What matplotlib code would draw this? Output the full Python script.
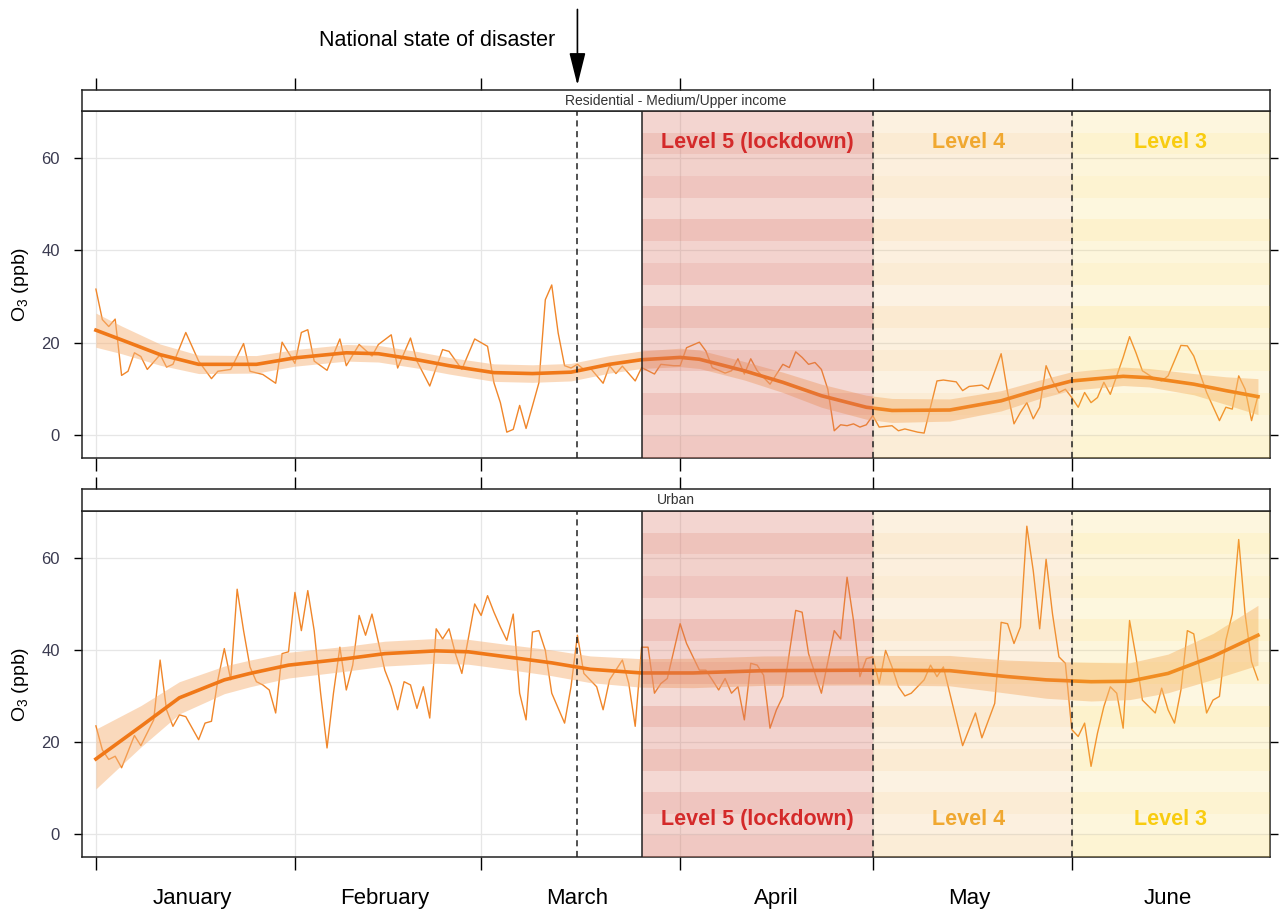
import numpy as np
import matplotlib
matplotlib.use("Agg")
import matplotlib.pyplot as plt
import matplotlib.dates as mdates

plt.rcParams['font.family'] = ['Liberation Sans', 'DejaVu Sans']
plt.rcParams['mathtext.fontset'] = 'custom'
plt.rcParams['mathtext.rm'] = 'Liberation Sans'

# ---- data (day offsets from 1 Jan 2020, O3 in ppb) ----
start_date = np.datetime64('2020-01-01')

res_days = [0, 1, 2, 3, 4, 5, 6, 7, 8, 10, 11, 12, 14, 16, 18, 19, 21, 23, 24, 26,
            28, 29, 31, 32, 33, 34, 36, 38, 39, 41, 43, 44, 46, 47, 49, 50, 52, 54, 55, 57,
            59, 61, 62, 63, 64, 65, 66, 67, 68, 69, 70, 71, 72, 73, 74, 75, 76, 77, 79, 80,
            81, 82, 84, 85, 87, 88, 90, 91, 92, 94, 95, 96, 98, 99, 100, 101, 102, 103, 105, 107,
            108, 109, 110, 111, 112, 113, 114, 115, 116, 117, 118, 119, 120, 121, 122, 124, 125, 126, 128, 129,
            131, 132, 134, 135, 136, 138, 139, 141, 142, 143, 144, 145, 146, 147, 148, 149, 150, 151, 152, 153,
            154, 155, 156, 157, 158, 160, 161, 162, 163, 165, 166, 167, 169, 170, 171, 172, 173, 175, 176, 177,
            178, 179, 180, 181]
res_o3 = [31.6, 25.0, 23.5, 25.1, 12.9, 13.8, 17.8, 17.0, 14.2, 17.4, 14.7, 15.3, 22.2, 16.0, 12.2, 13.8, 14.2, 19.8, 13.8, 13.1,
          11.2, 20.1, 15.5, 22.2, 22.8, 16.0, 14.0, 20.8, 15.0, 19.6, 17.1, 19.6, 21.7, 14.5, 21.0, 16.0, 10.6, 18.5, 18.1, 14.2,
          20.8, 19.2, 11.3, 7.0, 0.6, 1.2, 6.4, 1.4, 6.3, 11.3, 29.3, 32.5, 22.1, 15.0, 14.5, 15.3, 14.2, 14.5, 11.2, 15.0,
          13.3, 14.9, 11.7, 14.6, 13.2, 15.3, 15.0, 15.0, 18.9, 20.1, 18.2, 14.6, 13.4, 13.9, 16.5, 13.2, 16.5, 13.9, 11.0, 15.3,
          14.6, 18.0, 16.8, 15.3, 15.7, 14.2, 9.9, 0.9, 2.2, 2.0, 2.4, 1.7, 2.2, 4.2, 1.7, 2.0, 0.9, 1.3, 0.6, 0.4,
          11.7, 11.9, 11.5, 9.6, 10.5, 10.8, 9.9, 17.6, 9.2, 2.4, 4.9, 7.0, 3.5, 6.0, 15.0, 11.7, 9.2, 9.9, 8.1, 6.0,
          9.2, 7.0, 8.1, 11.4, 8.8, 16.8, 21.3, 17.8, 13.9, 12.1, 11.7, 12.8, 19.4, 19.3, 17.1, 13.2, 9.2, 3.1, 6.0, 5.6,
          12.8, 9.9, 3.1, 8.5]

res_fit_days = [0, 4, 10, 16, 25, 31, 39, 44, 50, 55, 62, 68, 74, 80, 85, 91, 94, 101, 107, 113,
                120, 124, 133, 141, 147, 152, 160, 164, 171, 176, 181]
res_fit = [22.7, 20.6, 17.4, 15.3, 15.3, 16.7, 17.8, 17.6, 16.3, 15.0, 13.5, 13.3, 13.6, 15.3, 16.3, 16.8, 16.4, 13.9, 11.4, 8.5,
           6.0, 5.3, 5.4, 7.4, 9.9, 11.7, 12.7, 12.4, 11.0, 9.6, 8.3]
res_ci = [3.7, 3.0, 2.3, 2.0, 1.9, 1.8, 1.8, 1.8, 1.8, 1.8, 1.9, 1.9, 1.9, 1.9, 1.9, 2.0, 2.0, 2.0, 2.2, 2.5,
          2.6, 2.6, 2.4, 2.2, 2.0, 2.0, 2.0, 2.0, 2.3, 3.0, 3.9]

urb_days = [0, 1, 2, 3, 4, 6, 7, 9, 10, 11, 12, 13, 14, 16, 17, 18, 19, 20, 21, 22,
            23, 24, 25, 26, 27, 28, 29, 30, 31, 32, 33, 34, 35, 36, 37, 38, 39, 40, 41, 42,
            43, 45, 46, 47, 48, 49, 50, 51, 52, 53, 54, 55, 56, 57, 59, 60, 61, 62, 63, 64,
            65, 66, 67, 68, 69, 70, 71, 73, 74, 75, 76, 78, 79, 80, 82, 83, 84, 85, 86, 87,
            88, 89, 91, 92, 94, 95, 96, 97, 98, 99, 100, 101, 102, 103, 104, 105, 106, 107, 109, 110,
            111, 113, 115, 116, 117, 118, 119, 120, 121, 122, 123, 124, 125, 126, 127, 129, 130, 131, 132, 133,
            135, 137, 138, 140, 141, 142, 143, 144, 145, 146, 147, 148, 149, 150, 151, 152, 153, 154, 155, 156,
            157, 158, 159, 160, 161, 162, 163, 165, 166, 167, 168, 169, 170, 171, 173, 174, 175, 176, 177, 178,
            179, 180, 181]
urb_o3 = [23.5, 18.3, 16.2, 16.9, 14.4, 21.4, 19.2, 24.8, 37.8, 27.0, 23.4, 25.9, 25.5, 20.5, 24.1, 24.5, 33.5, 40.3, 33.5, 53.2,
          44.2, 36.3, 33.1, 32.4, 31.3, 26.3, 39.2, 39.6, 52.5, 44.2, 52.9, 44.2, 30.6, 18.7, 30.6, 40.6, 31.3, 36.7, 47.5, 43.2,
          47.8, 35.6, 32.0, 27.0, 33.1, 32.4, 27.3, 32.0, 25.2, 44.6, 42.4, 44.6, 39.2, 34.9, 50.0, 47.5, 51.8, 48.2, 45.0, 42.1,
          47.8, 30.6, 24.8, 43.9, 44.2, 39.9, 30.6, 24.1, 32.0, 43.2, 34.9, 32.0, 27.0, 33.5, 37.8, 32.7, 23.4, 40.6, 40.6, 30.6,
          32.7, 33.8, 45.7, 41.4, 35.6, 35.6, 33.5, 31.3, 33.8, 30.6, 32.0, 24.8, 37.1, 36.7, 34.5, 23.0, 27.0, 29.9, 48.6, 48.2,
          39.2, 30.6, 44.2, 42.4, 55.8, 46.4, 34.2, 38.1, 38.5, 32.7, 39.9, 36.3, 32.0, 30.0, 30.6, 33.5, 36.7, 34.2, 36.3, 30.6,
          19.2, 26.3, 20.9, 28.4, 46.0, 45.7, 41.4, 45.0, 66.9, 57.2, 44.6, 59.7, 47.8, 38.5, 37.1, 22.7, 21.2, 24.1, 14.7, 21.9,
          27.7, 32.0, 30.6, 23.0, 46.4, 38.5, 29.1, 26.3, 31.7, 27.0, 24.1, 31.3, 44.2, 43.5, 26.3, 29.1, 29.9, 42.1, 47.8, 64.0,
          47.8, 37.4, 33.5]

urb_fit_days = [0, 7, 13, 20, 24, 30, 39, 45, 53, 58, 64, 71, 77, 85, 93, 104, 120, 133, 142, 148,
                155, 161, 167, 174, 181]
urb_fit = [16.3, 23.4, 29.6, 33.5, 34.9, 36.7, 38.1, 39.2, 39.8, 39.6, 38.5, 37.2, 35.8, 35.0, 35.0, 35.5, 35.6, 35.5, 34.2, 33.5,
           33.1, 33.2, 34.9, 38.6, 43.2]
urb_ci = [6.5, 4.5, 3.5, 3.0, 2.9, 2.8, 2.7, 2.7, 2.7, 2.7, 2.7, 2.8, 2.9, 3.1, 3.2, 3.2, 3.2, 3.3, 3.6, 4.0,
          4.2, 4.0, 4.2, 5.0, 6.5]

panel_titles = ['Residential - Medium/Upper income', 'Urban']
level_names = ['Level 5 (lockdown)', 'Level 4', 'Level 3']
level_starts = [np.datetime64('2020-03-26'), np.datetime64('2020-05-01'), np.datetime64('2020-06-01')]
disaster_date = np.datetime64('2020-03-16')
month_ticks = np.arange('2020-01', '2020-07', dtype='datetime64[M]').astype('datetime64[D]')
month_names = ['January', 'February', 'March', 'April', 'May', 'June']
yticks = [0, 20, 40, 60]

# ---- styling ----
raw_col = '#f0862a'
fit_col = '#f07818'
band_col = '#f7b47a'
level_cols = ['#d8705f', '#f0b050', '#f8d040']
level_txt = ['#d42a2a', '#f0a830', '#f8cc10']
stripes = [0.38, 0.3, 0.4, 0.27, 0.42, 0.31, 0.44, 0.26, 0.4, 0.3, 0.43, 0.28, 0.4, 0.32, 0.42, 0.29]
xmin = np.datetime64('2019-12-29T20')
xmax = np.datetime64('2020-07-01T21')


def to_dates(days):
    return start_date + np.array(days).astype('timedelta64[D]')


fig = plt.figure(figsize=(12.8, 9.11), dpi=100)
W, H = 1280, 911
left, width = 82 / W, 1188 / W

panels = [
    dict(top=111, bottom=458, strip=90, days=res_days, o3=res_o3, fd=res_fit_days, fit=res_fit, ci=res_ci, txt_y=63.3),
    dict(top=511, bottom=857, strip=489, days=urb_days, o3=urb_o3, fd=urb_fit_days, fit=urb_fit, ci=urb_ci, txt_y=3.2),
]

# month label positions: middle of each month
month_ends = np.append(month_ticks[1:], np.datetime64('2020-07-01'))
month_mids = month_ticks + (month_ends - month_ticks) / 2

ax_prev = None
for i, p in enumerate(panels):
    ax = fig.add_axes([left, 1 - p['bottom'] / H, width, (p['bottom'] - p['top']) / H], sharex=ax_prev)
    st = fig.add_axes([left, 1 - p['top'] / H, width, (p['top'] - p['strip']) / H], sharex=ax)
    ax_prev = ax

    x = to_dates(p['days'])
    fx = to_dates(p['fd'])
    fit = np.array(p['fit'])
    ci = np.array(p['ci'])
    ax.plot(x, p['o3'], color=raw_col, lw=1.0, zorder=2)
    ax.fill_between(fx, fit - ci, fit + ci, color=band_col, alpha=0.5, lw=0, zorder=2)
    ax.plot(fx, fit, color=fit_col, lw=2.6, zorder=2.5)

    # shaded alert levels (drawn over the data, banded)
    ends = level_starts[1:] + [xmax]
    n = len(stripes)
    for s, e, c, mult in zip(level_starts, ends, level_cols, [1.0, 0.6, 0.6]):
        for k, a in enumerate(stripes):
            ax.axvspan(s, e, ymin=k / n, ymax=(k + 1) / n, color=c, alpha=a * mult, lw=0, zorder=3)
    for s, e, name, tc in zip(level_starts, ends, level_names, level_txt):
        mid = s + (e - s) / 2
        ax.text(mid, p['txt_y'], name, color=tc, fontsize=15.5, fontweight='bold',
                ha='center', va='center', zorder=5)

    ax.axvline(disaster_date, color='#222222', lw=1.1, ls=(0, (4, 3)), zorder=4)
    ax.axvline(level_starts[0], color='#222222', lw=1.1, zorder=4)
    for d in level_starts[1:]:
        ax.axvline(d, color='#222222', lw=1.1, ls=(0, (4, 3)), zorder=4)

    ax.set_xlim(xmin, xmax)
    ax.set_ylim(-5, 70.2)
    ax.set_yticks(yticks)
    ax.set_xticks(month_ticks)
    ax.set_xticks(month_mids, minor=True)
    ax.set_xticklabels([])
    ax.set_xticklabels(month_names, minor=True)
    ax.grid(True, which='major', color='#e6e6e6', lw=0.9)
    ax.set_axisbelow(True)
    ax.tick_params(axis='y', left=True, right=True, labelleft=True, labelright=False,
                   direction='out', length=6, width=1, labelsize=12, labelcolor='#3a3a50', pad=10)
    ax.tick_params(axis='x', which='major', bottom=True, top=False, direction='out', length=9, width=1)
    ax.tick_params(axis='x', which='minor', length=0, labelsize=16, pad=22,
                   labelbottom=(i == 1))
    ax.set_ylabel('O$_3$ (ppb)', fontsize=14)
    ax.yaxis.set_label_coords(-0.043, 0.5)
    for sp in ax.spines.values():
        sp.set_linewidth(1.1)
        sp.set_color('#222222')

    st.set_yticks([])
    st.tick_params(axis='x', which='major', top=True, bottom=False, labeltop=False,
                   labelbottom=False, direction='out', length=9, width=1)
    st.tick_params(axis='x', which='minor', length=0, labelbottom=False, labeltop=False)
    for sp in st.spines.values():
        sp.set_linewidth(1.1)
        sp.set_color('#222222')
    st.text(0.5, 0.5, panel_titles[i], transform=st.transAxes, ha='center', va='center',
            fontsize=10, color='#333333')

    if i == 0:
        st.annotate('', xy=(disaster_date, 1), xycoords=('data', 'axes fraction'),
                    xytext=(0, 58), textcoords='offset points',
                    arrowprops=dict(arrowstyle='-|>,head_length=1.0,head_width=0.25', color='black',
                                    lw=1.2, mutation_scale=20, shrinkA=0, shrinkB=3.5))

fig.text(555 / W, 1 - 41 / H, 'National state of disaster', ha='right', va='center', fontsize=15.5)

fig.savefig('out.png', dpi=100)
